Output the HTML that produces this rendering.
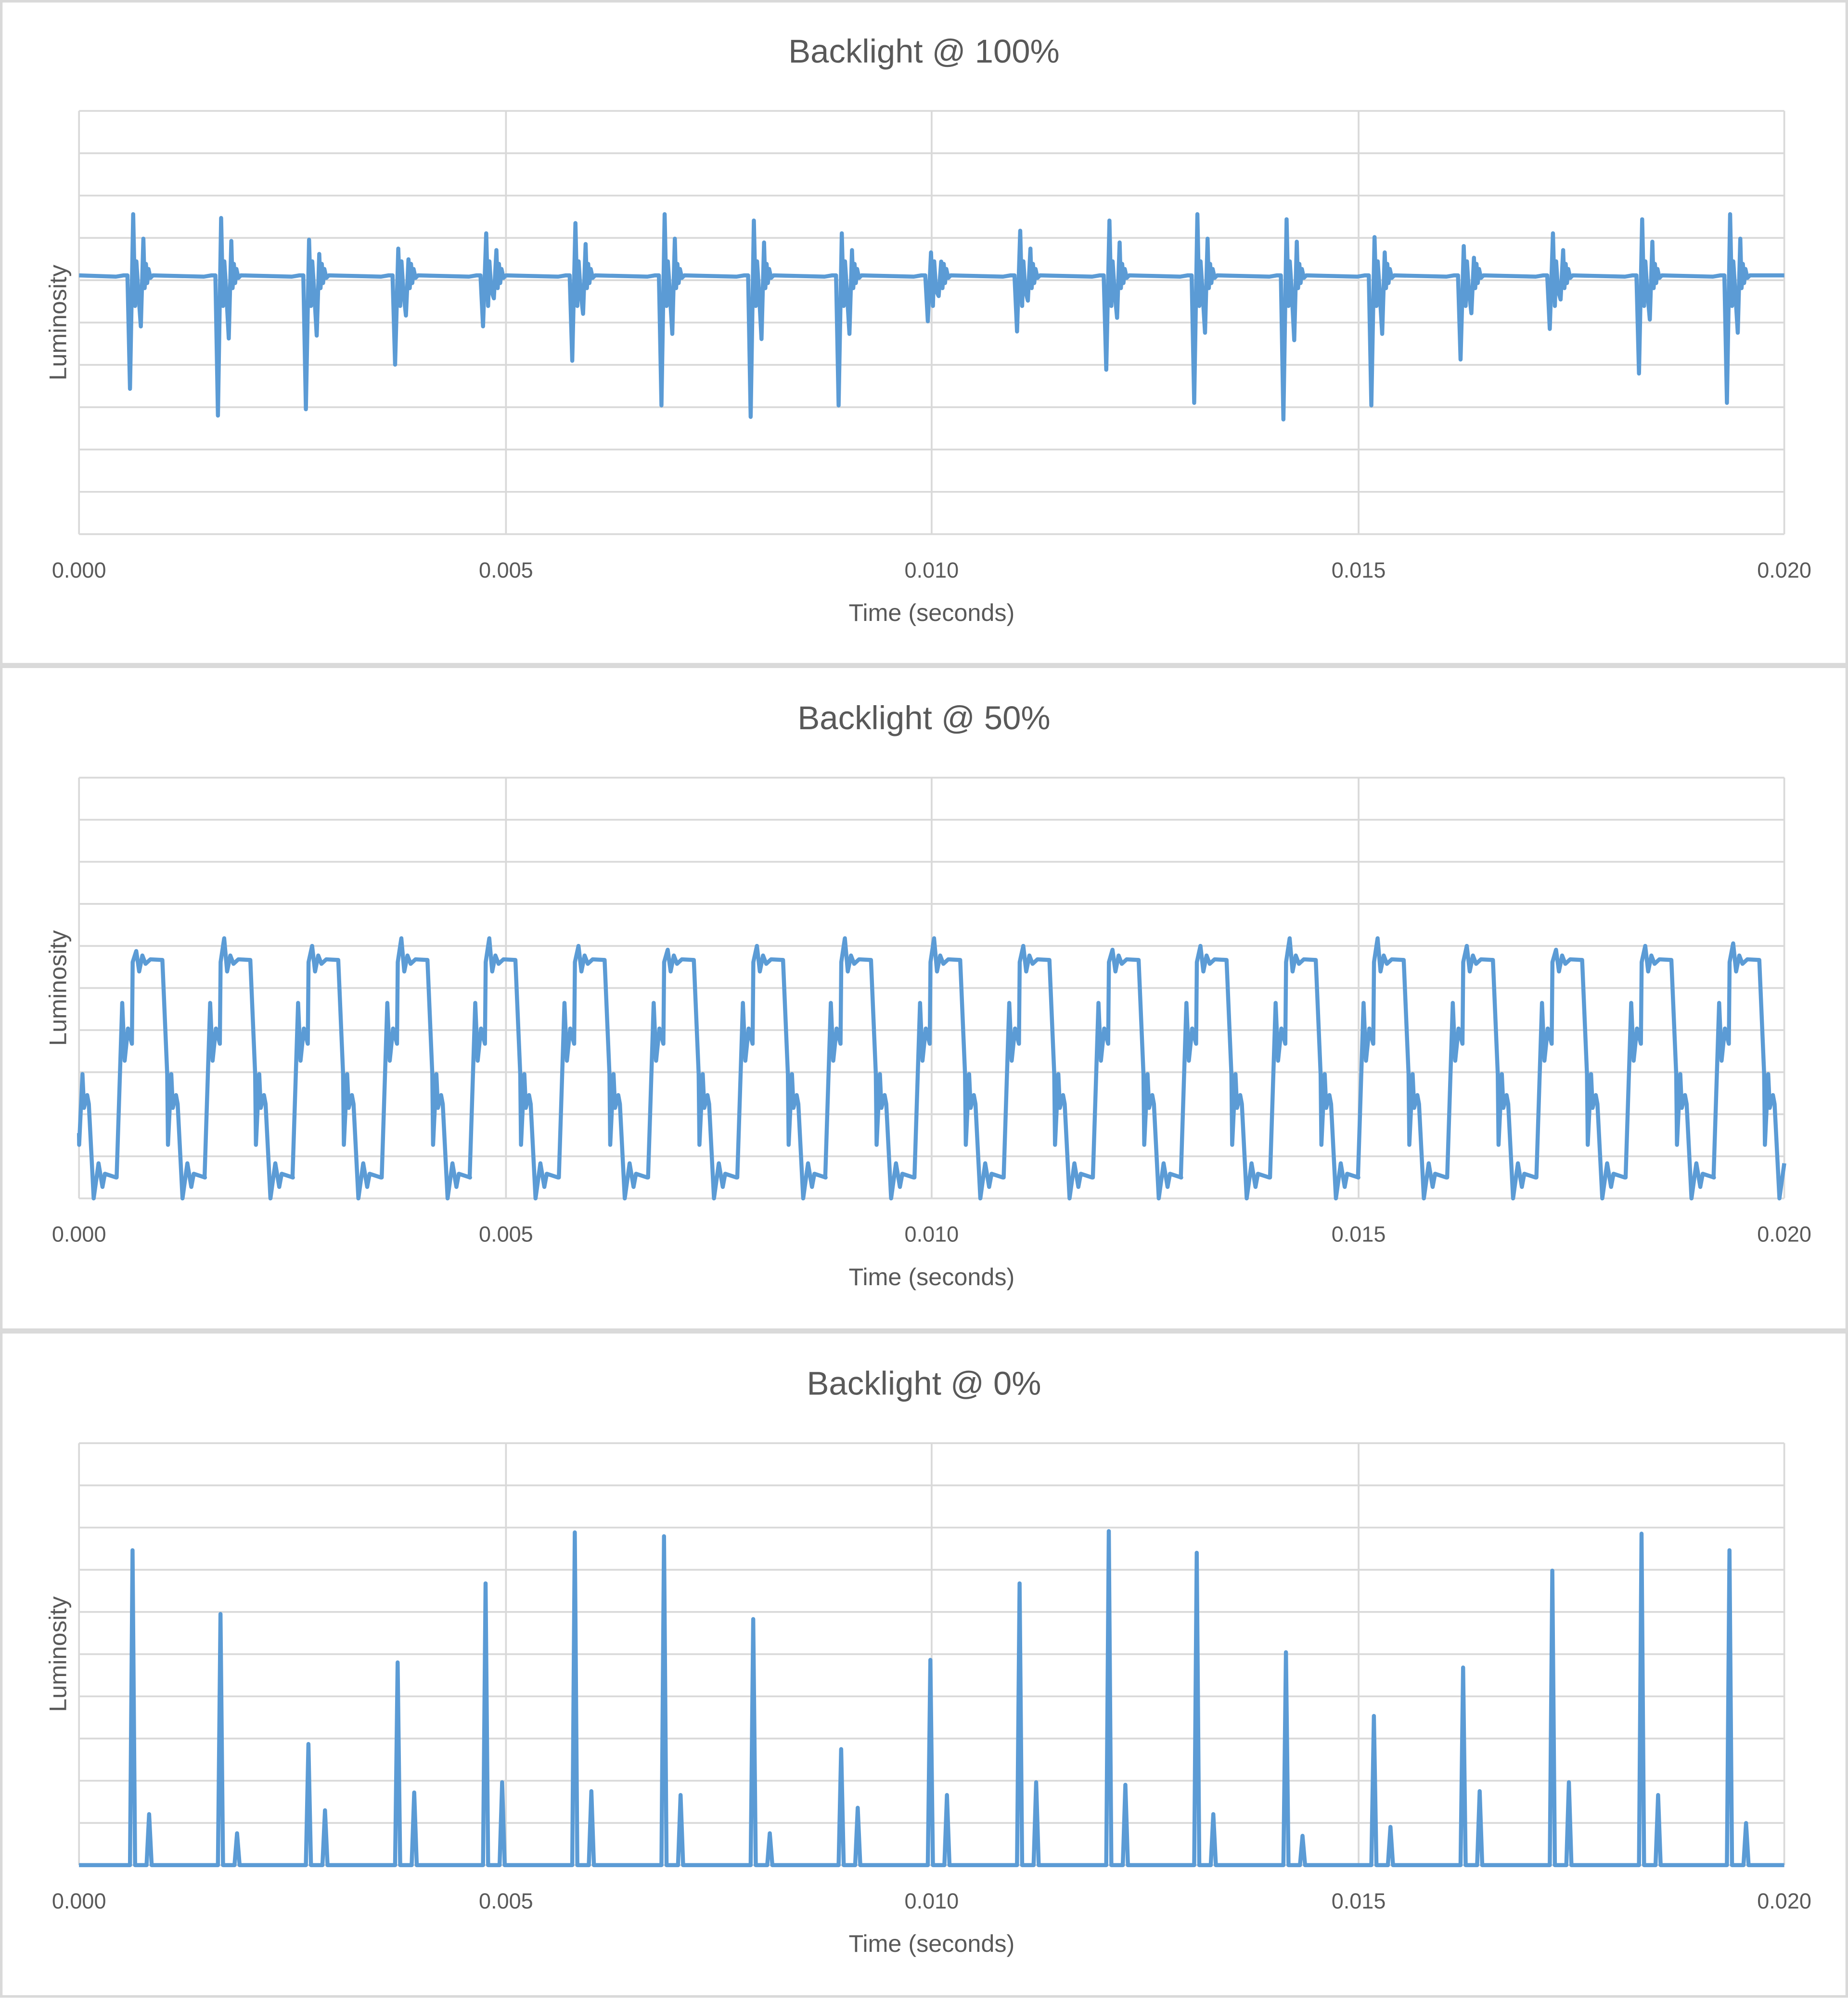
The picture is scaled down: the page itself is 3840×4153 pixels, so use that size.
<!DOCTYPE html>
<html><head><meta charset="utf-8">
<style>
html,body{margin:0;padding:0;background:#fff;}
svg{display:block;}
text{font-family:"Liberation Sans",sans-serif;fill:#595959;}
</style></head>
<body>
<svg id="s" width="3840" height="4153" viewBox="0 0 1450 1568" preserveAspectRatio="none" xmlns="http://www.w3.org/2000/svg">
<rect x="0" y="0" width="1450" height="1568" fill="#fff"/>
<g id="frames" fill="none" stroke="#d9d9d9" stroke-width="2">
<rect x="1" y="1" width="1448" height="520"/>
<rect x="1" y="523" width="1448" height="520"/>
<rect x="1" y="1045" width="1448" height="521"/>
</g>
<g id="grids"></g>
<g id="texts"></g>
<g id="series" fill="none" stroke="#5b9bd5" stroke-width="3.2" stroke-linejoin="round"></g>
</svg>
<script>
var NS="http://www.w3.org/2000/svg";
function el(p,t,a,txt){var e=document.createElementNS(NS,t);for(var k in a)e.setAttribute(k,a[k]);if(txt)e.textContent=txt;p.appendChild(e);return e;}
var G=document.getElementById('grids'),T=document.getElementById('texts'),S=document.getElementById('series');
var panels=[{top:87,bot:419,title:"Backlight @ 100%",ty:49},{top:610,bot:940,title:"Backlight @ 50%",ty:572},{top:1132,bot:1463,title:"Backlight @ 0%",ty:1094}];
var xs=[62,397,731,1066,1400],lab=["0.000","0.005","0.010","0.015","0.020"];
panels.forEach(function(p){
  for(var i=0;i<=10;i++){var y=p.top+(p.bot-p.top)*i/10;el(G,'line',{x1:62,x2:1400,y1:y,y2:y,stroke:'#d9d9d9','stroke-width':1.4});}
  xs.forEach(function(x){el(G,'line',{x1:x,x2:x,y1:p.top,y2:p.bot,stroke:'#d9d9d9','stroke-width':1.4});});
  el(T,'text',{x:725,y:p.ty,'text-anchor':'middle','font-size':26},p.title);
  xs.forEach(function(x,i){el(T,'text',{x:x,y:p.bot+34,'text-anchor':'middle','font-size':17},lab[i]);});
  el(T,'text',{x:731,y:p.bot+68,'text-anchor':'middle','font-size':19},"Time (seconds)");
  var cy=(p.top+p.bot)/2;
  el(T,'text',{x:0,y:0,'text-anchor':'middle','font-size':19,transform:'translate(52,'+cy+') rotate(-90)'},"Luminosity");
});
var X0=[103,172,241,311,380,450,520,590,659,729,799,869,938,1008,1077,1147,1217,1287,1356];
var U=[168,171,188,195,183,175,168,173,183,198,181,173,168,172,186,193,183,172,168];
var D=[305,326,321,286,256,283,318,327,318,252,260,290,316,329,318,282,258,293,316];
var b=216,d="M62,"+b;
X0.forEach(function(x,i){
  var u=U[i],dn=D[i],u2=b-(b-u)*0.6,d2=b+(dn-b)*0.45;
  var pts=[[x-3,b],[x-1,dn],[x+1.5,u],[x+3,240],[x+4,205],[x+5.5,228],[x+7.5,d2],[x+9.5,u2],[x+10.5,226],[x+11.5,207],[x+12.5,222],[x+13.5,211],[x+15,218],[x+17,216]];
  d+=" L"+(x-12)+","+(b+1)+" L"+(x-6)+","+b;
  pts.forEach(function(q){d+=" L"+q[0]+","+q[1];});
});
d+=" L1400,"+b;
el(S,'path',{d:d});
var per=[[-11.5,923.6],[-7.1,786.7],[-5.2,832],[-2.6,806.8],[0.5,818.7],[1.1,754.7],[3.9,745.8],[6.2,762],[8.7,749.5],[11.2,756],[15,752.5],[24.4,753],[28.2,842.5],[28.8,898],[31.4,842.5],[32.6,869],[35.1,859],[36.4,866],[40.2,940],[44,912.5],[47.1,931],[49,920.7],[57.8,923.6]];
var peak=[746,736,742,736,736,742,745,742,736,736,742,745,742,736,736,742,745,742,740];
var all=[];
[33.3].concat(X0).forEach(function(x,i){
  var pk=i==0?746:peak[i-1];
  per.forEach(function(q,j){var y=q[1];if(j==6)y=pk;all.push([x+q[0],y]);});
});
var pts2=[];
for(var i=0;i<all.length;i++){var q=all[i];
  if(q[0]<62){ if(i+1<all.length&&all[i+1][0]>=62){var n=all[i+1];var t=(62-q[0])/(n[0]-q[0]);pts2.push([62,q[1]+(n[1]-q[1])*t]);} continue;}
  if(q[0]>1400){var pv=all[i-1];var t=(1400-pv[0])/(q[0]-pv[0]);pts2.push([1400,pv[1]+(q[1]-pv[1])*t]);break;}
  pts2.push(q);}
el(S,'path',{d:"M"+pts2.map(function(q){return q[0].toFixed(1)+","+q[1].toFixed(1);}).join(" L")});
var H=[1216,1266,1368,1304,1242,1202,1205,1270,1372,1302,1242,1201,1218,1296,1346,1308,1232,1203,1216];
var H2=[1423,1438,1420,1406,1398,1405,1408,1438,1418,1408,1398,1400,1423,1440,1433,1405,1398,1408,1430];
var bb=1463,d3="M62,"+bb;
X0.forEach(function(x,i){
  d3+=" L"+(x-1)+","+bb+" L"+(x+1)+","+H[i]+" L"+(x+3)+","+bb;
  var s=x+14;
  d3+=" L"+(s-2)+","+bb+" L"+s+","+H2[i]+" L"+(s+2)+","+bb;
});
d3+=" L1400,"+bb;
el(S,'path',{d:d3});
</script>
</body></html>
